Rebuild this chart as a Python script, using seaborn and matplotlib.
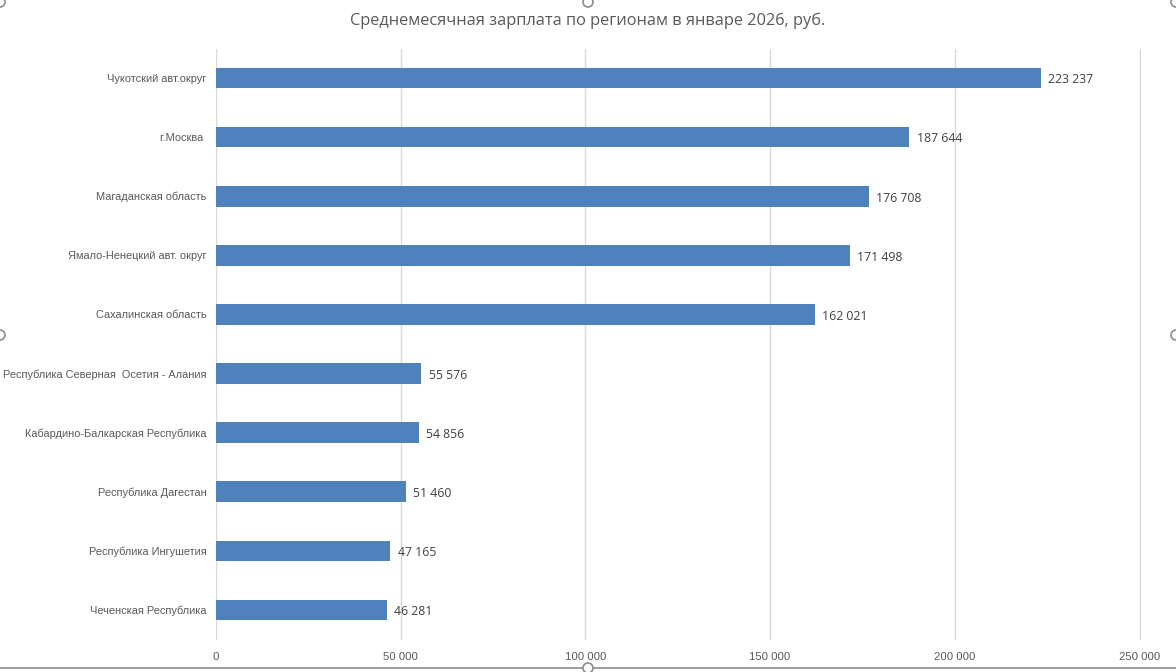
import matplotlib
matplotlib.use("Agg")
import matplotlib.pyplot as plt
import seaborn as sns
import pandas as pd
from matplotlib.ticker import FuncFormatter
from matplotlib.patches import Circle

regions = ["Чукотский авт.округ", "г.Москва ", "Магаданская область",
           "Ямало-Ненецкий авт. округ", "Сахалинская область",
           "Республика Северная  Осетия - Алания",
           "Кабардино-Балкарская Республика", "Республика Дагестан",
           "Республика Ингушетия", "Чеченская Республика"]
salary = [223237, 187644, 176708, 171498, 162021,
          55576, 54856, 51460, 47165, 46281]
xticks = [0, 50000, 100000, 150000, 200000, 250000]

df = pd.DataFrame({"region": regions, "salary": salary})


def fmt(v):
    return f"{int(v):,}".replace(",", " ")


sns.set_theme(style="white")
plt.rcParams['font.family'] = ['Liberation Sans', 'DejaVu Sans']

fig = plt.figure(figsize=(11.76, 6.72), dpi=100)
ax = fig.add_axes([216 / 1176, 1 - 639.5 / 672, 925 / 1176, 591 / 672])

sns.barplot(data=df, x="salary", y="region", orient="h", color="#4F81BD",
            saturation=1, width=0.35, linewidth=0, ax=ax, zorder=3)

ax.set_xlim(0, 250400)
ax.set_xticks(xticks)
ax.xaxis.set_major_formatter(FuncFormatter(lambda v, p: fmt(v)))
ax.grid(axis="x", color="#D9D9D9", linewidth=1, zorder=0)
ax.set_axisbelow(True)
for s in ax.spines.values():
    s.set_visible(False)
ax.set_xlabel("")
ax.set_ylabel("")
ax.tick_params(axis="both", length=0, colors="#595959", labelsize=7.9)
ax.tick_params(axis="x", pad=9, labelsize=8.2)
ax.tick_params(axis="y", pad=7)

for i, v in enumerate(salary):
    ax.text(v + 2000, i + 0.03, fmt(v), va="center", ha="left", fontsize=8.8,
            color="#404040", family=['Open Sans', 'DejaVu Sans'])

fig.text(0.5, 1 - 21 / 672, "Среднемесячная зарплата по регионам в январе 2026, руб.",
         ha="center", va="center", fontsize=11.8, color="#595959",
         family=['Open Sans', 'DejaVu Sans'])

# selection frame of the chart object
fig.add_artist(plt.Line2D([0, 1], [4 / 672, 4 / 672], color="#8C8C8C",
                          linewidth=1.2, transform=fig.transFigure))
for px, py in [(0, 2), (588, 2), (1176, 2), (0, 335), (1176, 335), (588, 668)]:
    fig.add_artist(Circle((px, 672 - py), 5, transform=None, facecolor="white",
                          edgecolor="#8C8C8C", linewidth=1.2, zorder=10))

fig.savefig("out.png", dpi=100)
